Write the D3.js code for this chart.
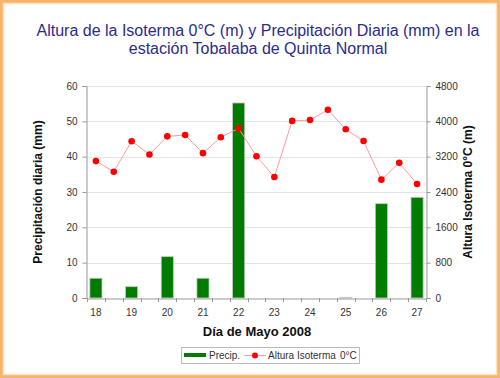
<!DOCTYPE html>
<html>
<head>
    <meta charset="utf-8">
    <script src="https://d3js.org/d3.v7.min.js"></script>
    <style>
        body { margin: 0; background: #fff; }
        text { font-family: Arial, "Liberation Sans", sans-serif; }
        .tick-label { font-size: 10px; fill: #333; }
        .axis-title { font-size: 12px; font-weight: bold; fill: #111; }
        .grid { stroke: #e4e4e4; stroke-width: 1; }
    </style>
</head>
<body>
<script>
    // half-day slots along the x axis (labels only on whole days)
    let slots = ["18", "18.5", "19", "19.5", "20", "20.5", "21", "21.5", "22", "22.5",
                 "23", "23.5", "24", "24.5", "25", "25.5", "26", "26.5", "27"];
    let dayLabels = ["18", "19", "20", "21", "22", "23", "24", "25", "26", "27"];

    // daily precipitation (mm), one per whole day
    let precip = [5.6, 3.2, 11.7, 5.6, 55.2, 0, 0, 0.2, 26.7, 28.5];

    // 0°C isotherm height (m), one per half-day slot
    let isoterma = [3100, 2860, 3550, 3250, 3660, 3690, 3280, 3640, 3840, 3210,
                    2740, 4010, 4030, 4260, 3820, 3555, 2680, 3060, 2580];

    let leftTicks = [0, 10, 20, 30, 40, 50, 60];
    let rightTicks = [0, 800, 1600, 2400, 3200, 4000, 4800];

    let W = 500, H = 378;
    let plot = { left: 87, right: 426, top: 86, bottom: 298 };

    let svg = d3.select("body").append("svg")
        .attr("width", W)
        .attr("height", H);

    // orange frame
    svg.append("rect")
        .attr("x", 1.5).attr("y", 1.5)
        .attr("width", W - 3).attr("height", H - 3)
        .attr("fill", "none")
        .attr("stroke", "#f7b46a")
        .attr("stroke-width", 3);
    svg.append("rect")
        .attr("x", 3.5).attr("y", 3.5)
        .attr("width", W - 7).attr("height", H - 7)
        .attr("fill", "none")
        .attr("stroke", "#fde3c4")
        .attr("stroke-width", 1.5);

    // title
    let title = svg.append("text")
        .attr("text-anchor", "middle")
        .style("font-size", "16px")
        .style("fill", "#2b2b8c");
    title.append("tspan").attr("x", 258).attr("y", 36)
        .text("Altura de la Isoterma 0°C (m) y Precipitación Diaria (mm) en la");
    title.append("tspan").attr("x", 258).attr("y", 54)
        .text("estación Tobalaba de Quinta Normal");

    // scales
    let x = d3.scaleBand()
        .domain(slots)
        .range([plot.left, plot.right])
        .padding(0);

    let yLeft = d3.scaleLinear()
        .domain([0, 60])
        .range([plot.bottom, plot.top]);

    let yRight = d3.scaleLinear()
        .domain([0, 4800])
        .range([plot.bottom, plot.top]);

    // gridlines
    svg.selectAll(".grid")
        .data(leftTicks.slice(1))
        .enter().append("line")
        .attr("class", "grid")
        .attr("x1", plot.left).attr("x2", plot.right)
        .attr("y1", d => Math.round(yLeft(d)) + 0.5)
        .attr("y2", d => Math.round(yLeft(d)) + 0.5);

    // bars
    let barW = x.bandwidth() * 0.68;
    svg.selectAll(".bar")
        .data(precip)
        .enter().append("rect")
        .attr("class", "bar")
        .attr("x", (d, i) => x(dayLabels[i]) + (x.bandwidth() - barW) / 2)
        .attr("y", d => yLeft(d))
        .attr("width", barW)
        .attr("height", d => plot.bottom - yLeft(d))
        .attr("fill", "#007d00")
        .attr("stroke", "#c8c8c8")
        .attr("stroke-width", 0.8);

    // isotherm line
    let line = d3.line()
        .x((d, i) => x(slots[i]) + x.bandwidth() / 2)
        .y(d => yRight(d));

    svg.append("path")
        .datum(isoterma)
        .attr("d", line)
        .attr("fill", "none")
        .attr("stroke", "#ff9a9a")
        .attr("stroke-width", 1);

    svg.selectAll(".dot")
        .data(isoterma)
        .enter().append("circle")
        .attr("class", "dot")
        .attr("cx", (d, i) => x(slots[i]) + x.bandwidth() / 2)
        .attr("cy", d => yRight(d))
        .attr("r", 3.3)
        .attr("fill", "#ff0000");

    // axes
    let leftAxis = d3.axisLeft(yLeft).tickValues(leftTicks).tickSize(4).tickPadding(5);
    let gl = svg.append("g")
        .attr("transform", "translate(" + (plot.left - 0.5) + ",0)")
        .call(leftAxis);

    let rightAxis = d3.axisRight(yRight).tickValues(rightTicks)
        .tickFormat(d3.format("d")).tickSize(4).tickPadding(5);
    let gr = svg.append("g")
        .attr("transform", "translate(" + (plot.right + 0.5) + ",0)")
        .call(rightAxis);

    let bottomAxis = d3.axisBottom(x)
        .tickValues(dayLabels)
        .tickSize(0)
        .tickPadding(10);
    let gb = svg.append("g")
        .attr("transform", "translate(0," + (plot.bottom + 0.5) + ")")
        .call(bottomAxis);

    // x ticks on the band boundaries
    svg.selectAll(".xtick")
        .data(slots.concat(["end"]))
        .enter().append("line")
        .attr("class", "xtick")
        .attr("x1", (d, i) => Math.round(plot.left + i * x.bandwidth()) + 0.5)
        .attr("x2", (d, i) => Math.round(plot.left + i * x.bandwidth()) + 0.5)
        .attr("y1", plot.bottom)
        .attr("y2", plot.bottom + 4)
        .attr("stroke", "#999");

    [gl, gr, gb].forEach(g => {
        g.attr("font-family", null).attr("font-size", null);
        g.select(".domain").attr("stroke", "#999");
        g.selectAll(".tick line").attr("stroke", "#999");
        g.selectAll(".tick text").attr("class", "tick-label");
    });

    // axis titles
    svg.append("text")
        .attr("class", "axis-title")
        .attr("transform", "translate(42,192) rotate(-90)")
        .attr("text-anchor", "middle")
        .text("Precipitación diaria (mm)");

    svg.append("text")
        .attr("class", "axis-title")
        .attr("transform", "translate(472,192) rotate(-90)")
        .attr("text-anchor", "middle")
        .text("Altura Isoterma 0°C (m)");

    svg.append("text")
        .attr("class", "axis-title")
        .attr("x", 257).attr("y", 336)
        .attr("text-anchor", "middle")
        .style("font-size", "13px")
        .text("Día de Mayo 2008");

    // legend
    let lg = svg.append("g");
    lg.append("rect")
        .attr("x", 181.5).attr("y", 347.5)
        .attr("width", 178).attr("height", 16)
        .attr("fill", "#fff")
        .attr("stroke", "#bbb");
    lg.append("rect")
        .attr("x", 184).attr("y", 353)
        .attr("width", 22).attr("height", 4)
        .attr("fill", "#007d00");
    lg.append("text").attr("class", "tick-label")
        .attr("x", 209).attr("y", 359).text("Precip.");
    lg.append("line")
        .attr("x1", 244).attr("x2", 266)
        .attr("y1", 355.5).attr("y2", 355.5)
        .attr("stroke", "#ff9a9a");
    lg.append("circle")
        .attr("cx", 255).attr("cy", 355.5).attr("r", 3)
        .attr("fill", "#ff0000");
    lg.append("text").attr("class", "tick-label")
        .attr("x", 268).attr("y", 359).text("Altura Isoterma");
    lg.append("text").attr("class", "tick-label")
        .attr("x", 340).attr("y", 359).text("0°C");
</script>
</body>
</html>
